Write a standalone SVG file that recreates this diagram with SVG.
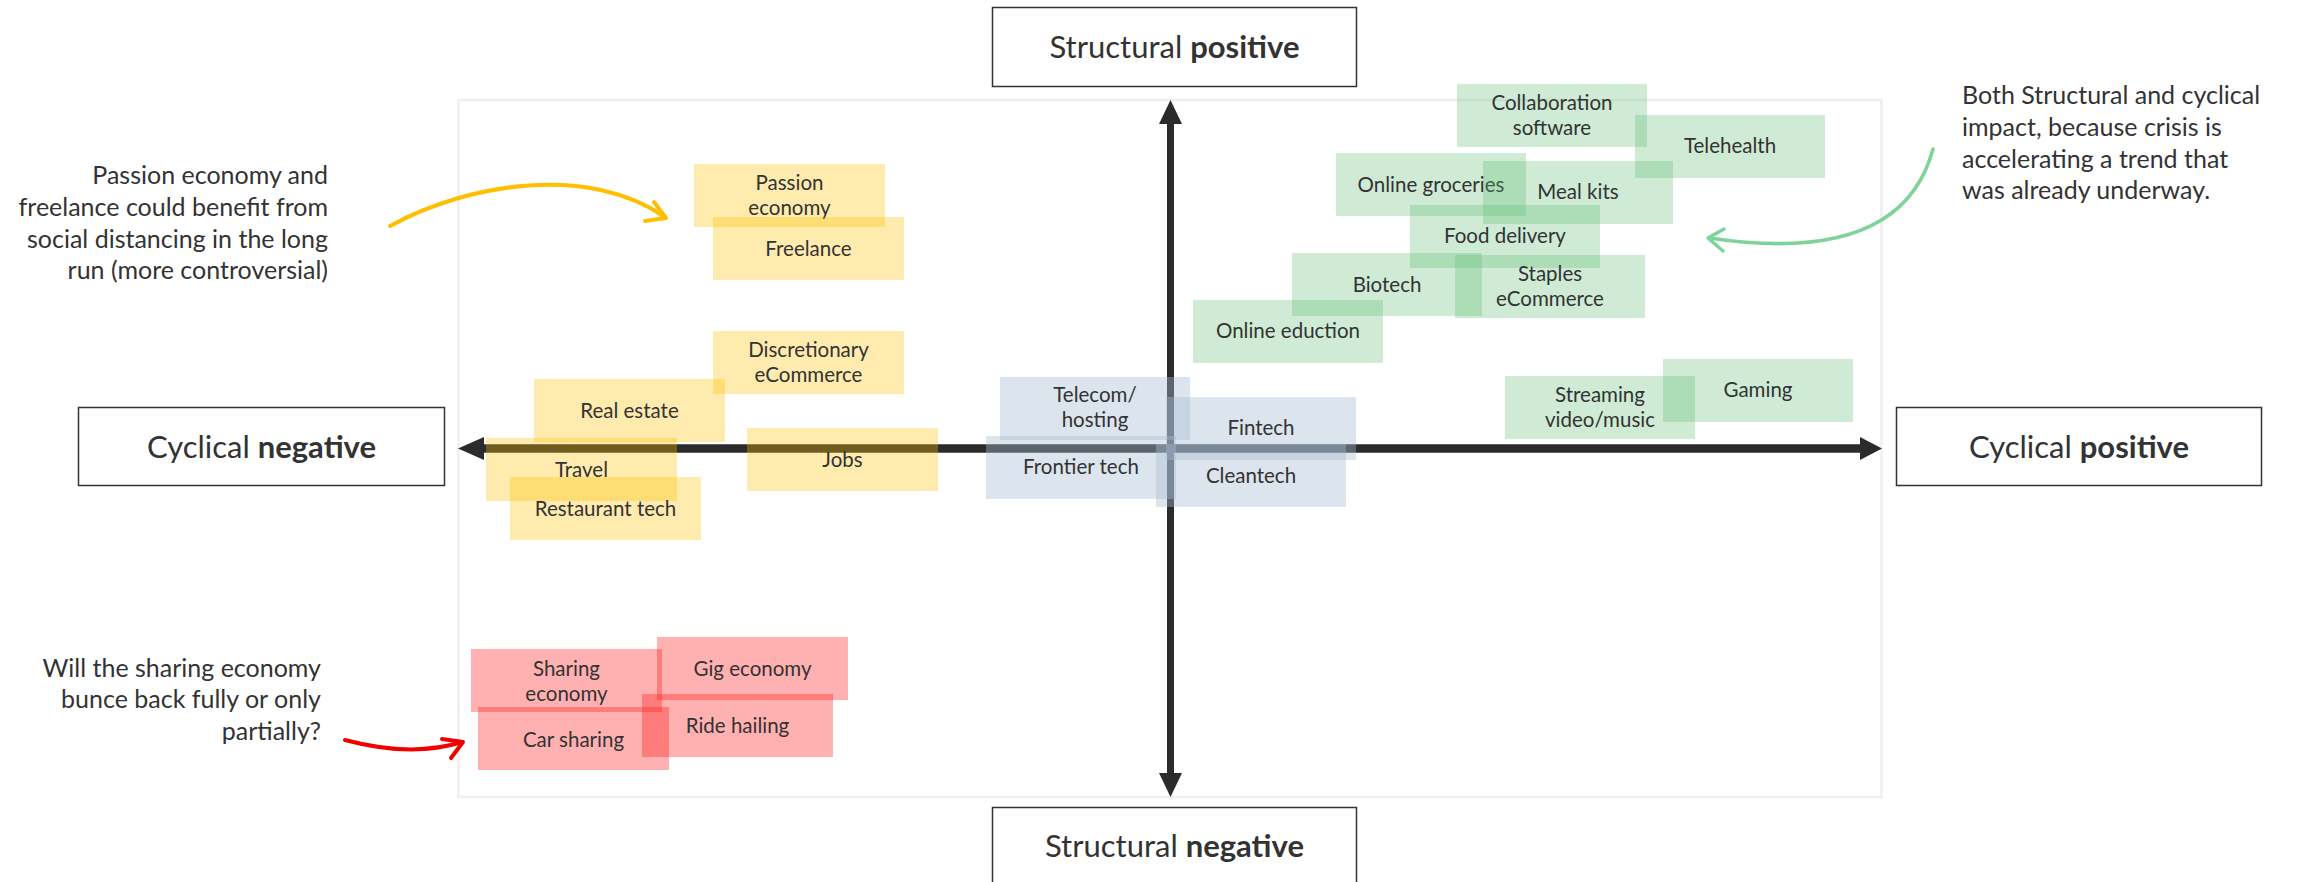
<svg xmlns="http://www.w3.org/2000/svg" width="2298" height="882" viewBox="0 0 2298 882">
<style>
text{font-family:Lato,"Noto Sans",sans-serif;fill:#333}
.lab{font-size:31px;text-anchor:middle}
.b{font-weight:700}
.ann{font-size:25px}
.st{font-size:20.5px;text-anchor:middle}
.box{fill:#fff;stroke:#333;stroke-width:1.5}
.yl rect{fill:#FFC000;fill-opacity:.32}
.gr rect{fill:#5FBC73;fill-opacity:.3}
.rd rect{fill:#FF1D1D;fill-opacity:.35}
.bl rect{fill:#A8BCD1;fill-opacity:.4}
.axis{stroke:#2b2b2b;fill:none}
.ah{fill:#2b2b2b}
.arr{fill:none;stroke-linecap:round;stroke-linejoin:round}
</style>
<rect width="2298" height="882" fill="#fff"/>
<rect id="plot-area" x="458.5" y="100" width="1423" height="697" fill="none" stroke="#EFEFEF" stroke-width="2.5"/>

<g id="connectors">
  <line class="axis" x1="482" y1="448.5" x2="1862" y2="448.5" stroke-width="8.5"/>
  <polygon class="ah" points="458,448.5 484,437 484,460"/>
  <polygon class="ah" points="1882,448.5 1860,437 1860,460"/>
  <line class="axis" x1="1170.5" y1="121" x2="1170.5" y2="776" stroke-width="7"/>
  <polygon class="ah" points="1170.5,100 1159,124 1182,124"/>
  <polygon class="ah" points="1170.5,797 1159,773 1182,773"/>
  <path class="arr" d="M390,226 C470,182 590,165 665,217" stroke="#FFBF00" stroke-width="4"/>
  <path class="arr" d="M654,202 L666,218 L645,221" stroke="#FFBF00" stroke-width="4"/>
  <path class="arr" d="M1933,149 C1918,205 1870,262 1709,238" stroke="#7ED397" stroke-width="3.5"/>
  <path class="arr" d="M1724,229 L1708,238 L1723,251" stroke="#7ED397" stroke-width="3.5"/>
  <path class="arr" d="M345,740 C390,752 430,752 462,742" stroke="#F20000" stroke-width="4"/>
  <path class="arr" d="M442,739 L463,742 L451,758" stroke="#F20000" stroke-width="4"/>
</g>

<g class="yl">
  <g id="passion-economy"><rect x="694" y="164" width="191" height="63"/><text class="st" x="789.5" y="190">Passion</text><text class="st" x="789.5" y="215">economy</text></g>
  <g id="freelance"><rect x="713" y="217" width="191" height="63"/><text class="st" x="808.5" y="256">Freelance</text></g>
  <g id="discretionary-ecommerce"><rect x="713" y="331" width="191" height="63"/><text class="st" x="808.5" y="357">Discretionary</text><text class="st" x="808.5" y="382">eCommerce</text></g>
  <g id="real-estate"><rect x="534" y="379" width="191" height="63"/><text class="st" x="629.5" y="418">Real estate</text></g>
  <g id="travel"><rect x="486" y="438" width="191" height="63"/><text class="st" x="581.5" y="477">Travel</text></g>
  <g id="jobs"><rect x="747" y="428" width="191" height="63"/><text class="st" x="842.5" y="467">Jobs</text></g>
  <g id="restaurant-tech"><rect x="510" y="477" width="191" height="63"/><text class="st" x="605.5" y="516">Restaurant tech</text></g>
</g>

<g class="rd">
  <g id="sharing-economy"><rect x="471" y="649" width="191" height="63"/><text class="st" x="566.5" y="676">Sharing</text><text class="st" x="566.5" y="701">economy</text></g>
  <g id="gig-economy"><rect x="657" y="637" width="191" height="63"/><text class="st" x="752.5" y="676">Gig economy</text></g>
  <g id="car-sharing"><rect x="478" y="707" width="191" height="63"/><text class="st" x="573.5" y="747">Car sharing</text></g>
  <g id="ride-hailing"><rect x="642" y="694" width="191" height="63"/><text class="st" x="737.5" y="733">Ride hailing</text></g>
</g>

<g class="gr">
  <g id="collaboration-software"><rect x="1457" y="84" width="190" height="63"/><text class="st" x="1552" y="110">Collaboration</text><text class="st" x="1552" y="135">software</text></g>
  <g id="telehealth"><rect x="1635" y="115" width="190" height="63"/><text class="st" x="1730" y="153">Telehealth</text></g>
  <g id="online-groceries"><rect x="1336" y="153" width="190" height="63"/><text class="st" x="1431" y="192">Online groceries</text></g>
  <g id="meal-kits"><rect x="1483" y="161" width="190" height="63"/><text class="st" x="1578" y="199">Meal kits</text></g>
  <g id="food-delivery"><rect x="1410" y="205" width="190" height="63"/><text class="st" x="1505" y="243">Food delivery</text></g>
  <g id="biotech"><rect x="1292" y="253" width="190" height="63"/><text class="st" x="1387" y="292">Biotech</text></g>
  <g id="staples-ecommerce"><rect x="1455" y="255" width="190" height="63"/><text class="st" x="1550" y="281">Staples</text><text class="st" x="1550" y="306">eCommerce</text></g>
  <g id="online-education"><rect x="1193" y="300" width="190" height="63"/><text class="st" x="1288" y="338">Online eduction</text></g>
  <g id="streaming"><rect x="1505" y="376" width="190" height="63"/><text class="st" x="1600" y="402">Streaming</text><text class="st" x="1600" y="427">video/music</text></g>
  <g id="gaming"><rect x="1663" y="359" width="190" height="63"/><text class="st" x="1758" y="397">Gaming</text></g>
</g>

<g class="bl">
  <g id="telecom-hosting"><rect x="1000" y="377" width="190" height="63"/><text class="st" x="1095" y="402">Telecom/</text><text class="st" x="1095" y="427">hosting</text></g>
  <g id="fintech"><rect x="1166" y="397" width="190" height="63"/><text class="st" x="1261" y="435">Fintech</text></g>
  <g id="frontier-tech"><rect x="986" y="436" width="190" height="63"/><text class="st" x="1081" y="474">Frontier tech</text></g>
  <g id="cleantech"><rect x="1156" y="444" width="190" height="63"/><text class="st" x="1251" y="483">Cleantech</text></g>
</g>

<g id="structural-positive"><rect class="box" x="992.5" y="7.5" width="364" height="79"/><text class="lab" x="1174.5" y="58">Structural <tspan class="b">positive</tspan></text></g>
<g id="structural-negative"><rect class="box" x="992.5" y="807.5" width="364" height="90"/><text class="lab" x="1174.5" y="857">Structural <tspan class="b">negative</tspan></text></g>
<g id="cyclical-negative"><rect class="box" x="78.5" y="407.5" width="366" height="78"/><text class="lab" x="261.5" y="458">Cyclical <tspan class="b">negative</tspan></text></g>
<g id="cyclical-positive"><rect class="box" x="1896.5" y="407.5" width="365" height="78"/><text class="lab" x="2079" y="458">Cyclical <tspan class="b">positive</tspan></text></g>

<g id="note-passion" class="ann" text-anchor="end">
  <text x="328" y="184">Passion economy and</text>
  <text x="328" y="216">freelance could benefit from</text>
  <text x="328" y="248">social distancing in the long</text>
  <text x="328" y="279">run (more controversial)</text>
</g>
<g id="note-both" class="ann">
  <text x="1962" y="104">Both Structural and cyclical</text>
  <text x="1962" y="136">impact, because crisis is</text>
  <text x="1962" y="168">accelerating a trend that</text>
  <text x="1962" y="199">was already underway.</text>
</g>
<g id="note-sharing" class="ann" text-anchor="end">
  <text x="321" y="677">Will the sharing economy</text>
  <text x="321" y="708">bunce back fully or only</text>
  <text x="321" y="740">partially?</text>
</g>
</svg>
